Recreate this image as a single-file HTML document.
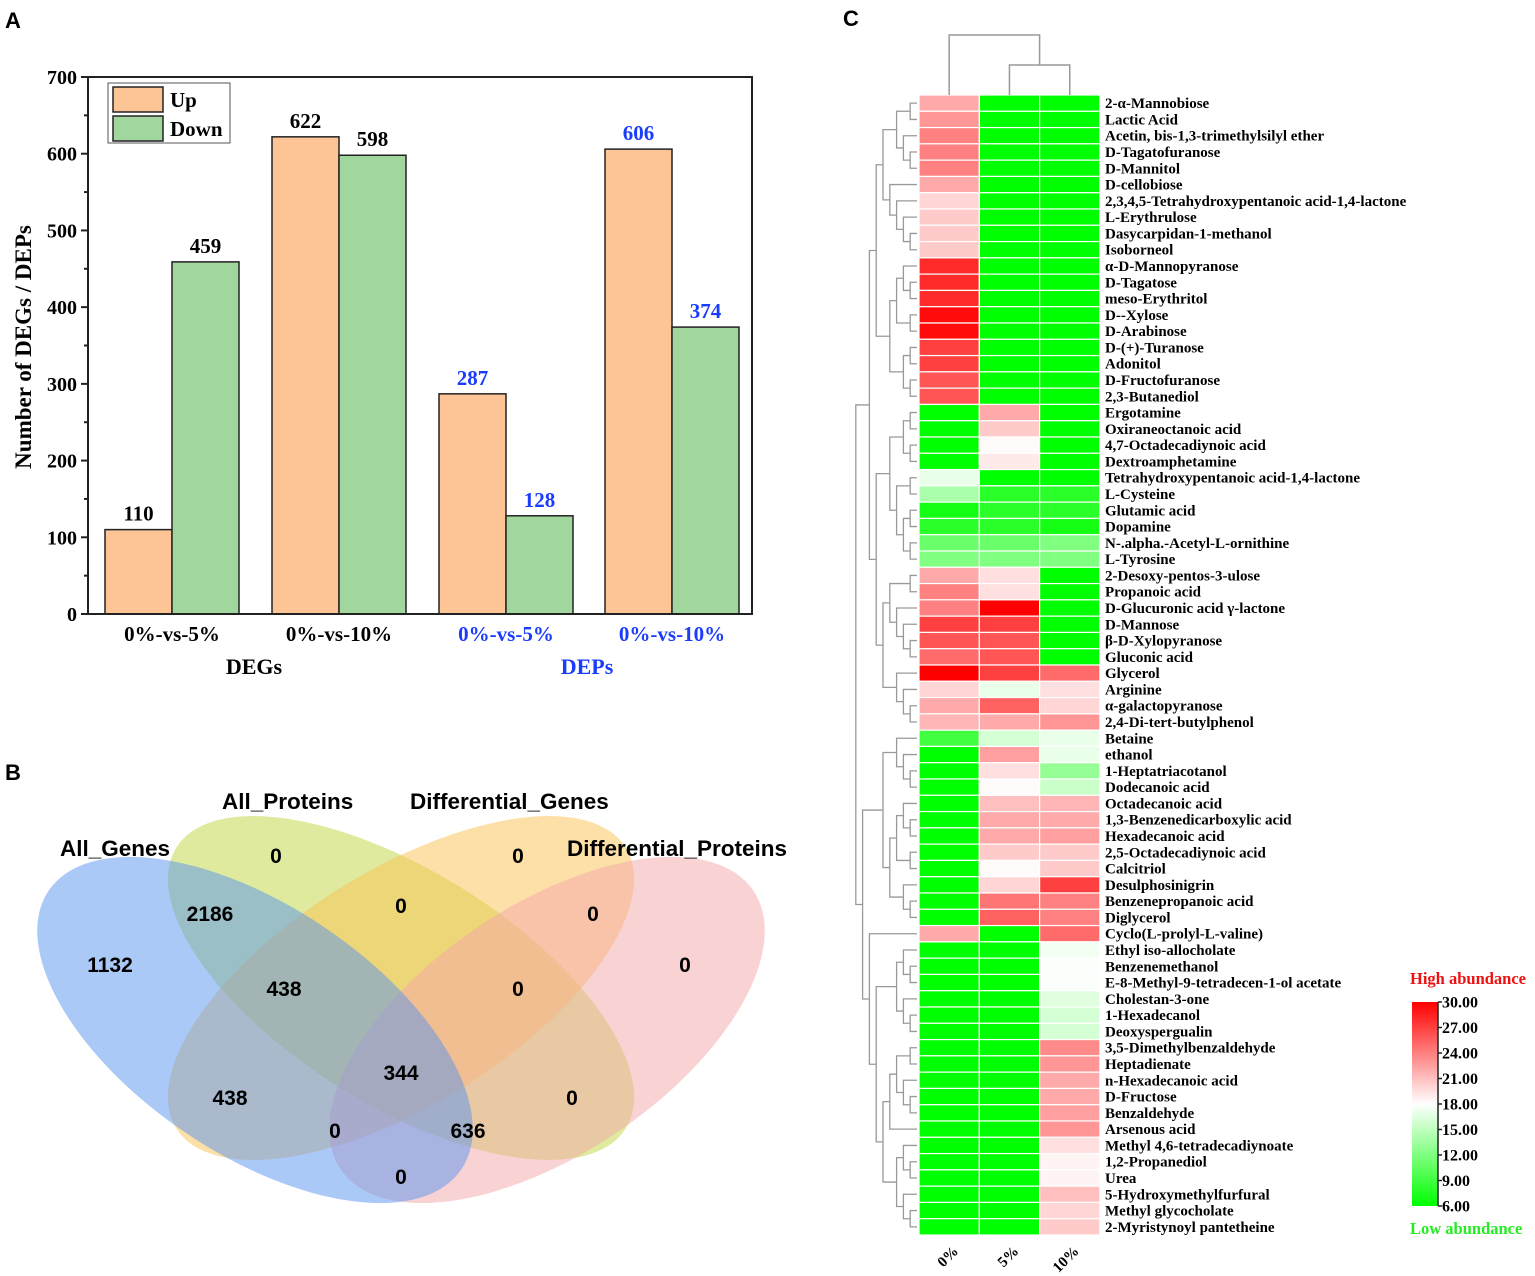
<!DOCTYPE html>
<html><head><meta charset="utf-8">
<style>
html,body{margin:0;padding:0;background:#fff;}
svg{display:block;}
.serif{font-family:"Liberation Serif",serif;font-weight:bold;}
.sans{font-family:"Liberation Sans",sans-serif;font-weight:bold;}
</style></head>
<body>
<svg id="fig" width="1535" height="1276" viewBox="0 0 1535 1276" xmlns="http://www.w3.org/2000/svg">
<text x="5" y="28" class="sans" font-size="22">A</text>
<text x="5" y="780" class="sans" font-size="22">B</text>
<text x="843" y="26" class="sans" font-size="22">C</text>
<g id="bar"></g>
<g id="venn"></g>
<g id="heat"></g>
</svg>
<script>
const NS="http://www.w3.org/2000/svg";
function mk(parent,tag,attrs,txt){const e=document.createElementNS(NS,tag);for(const k in attrs)e.setAttribute(k,attrs[k]);if(txt!==undefined)e.textContent=txt;parent.appendChild(e);return e;}

// ---------- Bar chart data ----------
const barCategories=["0%-vs-5%","0%-vs-10%","0%-vs-5%","0%-vs-10%"];
const upValues=[110,622,287,606];
const downValues=[459,598,128,374];
const yTicks=[0,100,200,300,400,500,600,700];
const groupNames=["DEGs","DEPs"];

// ---------- Venn data ----------
const vennSets=["All_Genes","All_Proteins","Differential_Genes","Differential_Proteins"];
const vennCounts=["1132","0","0","0","2186","0","0","438","0","438","344","0","0","636","0"];

// ---------- Heatmap data ----------
const heatCols=["0%","5%","10%"];
const heatRows=["2-α-Mannobiose","Lactic Acid","Acetin, bis-1,3-trimethylsilyl ether","D-Tagatofuranose","D-Mannitol","D-cellobiose","2,3,4,5-Tetrahydroxypentanoic acid-1,4-lactone","L-Erythrulose","Dasycarpidan-1-methanol","Isoborneol","α-D-Mannopyranose","D-Tagatose","meso-Erythritol","D--Xylose","D-Arabinose","D-(+)-Turanose","Adonitol","D-Fructofuranose","2,3-Butanediol","Ergotamine","Oxiraneoctanoic acid","4,7-Octadecadiynoic acid","Dextroamphetamine","Tetrahydroxypentanoic acid-1,4-lactone","L-Cysteine","Glutamic acid","Dopamine","N-.alpha.-Acetyl-L-ornithine","L-Tyrosine","2-Desoxy-pentos-3-ulose","Propanoic acid","D-Glucuronic acid γ-lactone","D-Mannose","β-D-Xylopyranose","Gluconic acid","Glycerol","Arginine","α-galactopyranose","2,4-Di-tert-butylphenol","Betaine","ethanol","1-Heptatriacotanol","Dodecanoic acid","Octadecanoic acid","1,3-Benzenedicarboxylic acid","Hexadecanoic acid","2,5-Octadecadiynoic acid","Calcitriol","Desulphosinigrin","Benzenepropanoic acid","Diglycerol","Cyclo(L-prolyl-L-valine)","Ethyl iso-allocholate","Benzenemethanol","E-8-Methyl-9-tetradecen-1-ol acetate","Cholestan-3-one","1-Hexadecanol","Deoxyspergualin","3,5-Dimethylbenzaldehyde","Heptadienate","n-Hexadecanoic acid","D-Fructose","Benzaldehyde","Arsenous acid","Methyl 4,6-tetradecadiynoate","1,2-Propanediol","Urea","5-Hydroxymethylfurfural","Methyl glycocholate","2-Myristynoyl pantetheine"];
const heat0=[22,23,24,24,24,22,20,20.5,20.5,20.5,28,28,28,29.5,29.5,27,27,26,26,6,6,6,6,17,14,7,8,11,12,22,24,24,27,26,25,30,20,22,21.5,9,6,6,6,6,6,6,6,6,6,6,6,22,6,6,6,6,6,6,6,6,6,6,6,6,6,6,6,6,6,6];
const heat5=[6,6,6,6,6,6,6,6,6,6,6,6,6,6,6,6,6,6,6,22,20.5,18.2,19,6,8,8,8,11,12,19.5,19.5,30,27,26,26,27,17,25.5,22,16,22.5,19.5,18.2,21,22,22,20.5,18.2,20,24.5,25.5,6,6,6,6,6,6,6,6,6,6,6,6,6,6,6,6,6,6,6];
const heat10=[6,6,6,6,6,6,6,6,6,6,6,6,6,6,6,6,6,6,6,6,6,6,6,6,8,8,7,12,12,6,6,6,6,6,6,25,19.5,20,23,17,17,13,15.5,21.5,22,22.5,20.5,20.5,27,24,24,25,17.5,17.8,17.8,16.5,16,16,23.5,23,22,22,22.5,23,19.5,18.5,18.5,21,20,20.5];
const cbTicks=["30.00","27.00","24.00","21.00","18.00","15.00","12.00","9.00","6.00"];

// ===== Bar chart =====
(function(){
const g=document.getElementById('bar');
const x0=88,x1=752,yTop=77,yBot=614,vmax=700;
const y=v=>yBot-(v/vmax)*(yBot-yTop);
const groupX=[105,272,439,605], bw=67;
const labColor=["#000","#000","#1a3cff","#1a3cff"];
for(let i=0;i<barCategories.length;i++){
  const xu=groupX[i], xd=groupX[i]+bw;
  let r=mk(g,'rect',{x:xu,y:y(upValues[i]),width:bw,height:yBot-y(upValues[i]),fill:'#fdc596',stroke:'#222','stroke-width':1.5});
  
  let d=mk(g,'rect',{x:xd,y:y(downValues[i]),width:bw,height:yBot-y(downValues[i]),fill:'#a1d79e',stroke:'#222','stroke-width':1.5});
  
  let t1=mk(g,'text',{x:xu+bw/2,y:y(upValues[i])-9,'text-anchor':'middle','font-size':21,fill:labColor[i],class:'serif'},upValues[i]);
  
  let t2=mk(g,'text',{x:xd+bw/2,y:y(downValues[i])-9,'text-anchor':'middle','font-size':21,fill:labColor[i],class:'serif'},downValues[i]);
  
  let c=mk(g,'text',{x:xu+bw,y:641,'text-anchor':'middle','font-size':21,fill:labColor[i],class:'serif'},barCategories[i]);
  
}
let gn1=mk(g,'text',{x:254,y:674,'text-anchor':'middle','font-size':22,class:'serif'},groupNames[0]);

let gn2=mk(g,'text',{x:587,y:674,'text-anchor':'middle','font-size':22,fill:'#1a3cff',class:'serif'},groupNames[1]);

let fr=mk(g,'rect',{x:x0,y:yTop,width:x1-x0,height:yBot-yTop,fill:'none',stroke:'#222','stroke-width':2});

yTicks.forEach(v=>{
  mk(g,'line',{x1:x0-7,x2:x0,y1:y(v),y2:y(v),stroke:'#222','stroke-width':2});
  let t=mk(g,'text',{x:x0-11,y:y(v)+7,'text-anchor':'end','font-size':20,class:'serif'},v);
  
  if(v<vmax) mk(g,'line',{x1:x0-4,x2:x0,y1:y(v+50),y2:y(v+50),stroke:'#222','stroke-width':2});
});
let yt=mk(g,'text',{x:0,y:0,transform:'translate(31,347) rotate(-90)','text-anchor':'middle','font-size':23,class:'serif'},'Number of DEGs / DEPs');

const lg=mk(g,'g',{});

mk(lg,'rect',{x:108,y:83,width:122,height:60,fill:'#fff',stroke:'#555','stroke-width':1});
mk(lg,'rect',{x:113,y:87,width:50,height:25,fill:'#fdc596',stroke:'#222','stroke-width':1.5});
mk(lg,'rect',{x:113,y:116,width:50,height:25,fill:'#a1d79e',stroke:'#222','stroke-width':1.5});
let l1=mk(lg,'text',{x:170,y:107,'font-size':21,class:'serif'},'Up');

let l2=mk(lg,'text',{x:170,y:136,'font-size':21,class:'serif'},'Down');

})();

// ===== Venn =====
(function(){
const g=document.getElementById('venn');
// drawn order: green, orange, pink, blue (blue on top)
const ells=[
 {n:2,cx:401,cy:988,rx:265,ry:117,a:32,fill:'#bfd540'},
 {n:3,cx:401,cy:988,rx:265,ry:117,a:-32,fill:'#fbc151'},
 {n:4,cx:547,cy:1030,rx:249,ry:124,a:-34,fill:'#f3a5a9'},
 {n:1,cx:255,cy:1030,rx:249,ry:124,a:34,fill:'#5893ef'}
];
ells.forEach(e=>{
  let el=mk(g,'ellipse',{cx:e.cx,cy:e.cy,rx:e.rx,ry:e.ry,transform:`rotate(${e.a} ${e.cx} ${e.cy})`,fill:e.fill,'fill-opacity':0.5});
  
});
const setPos=[[60,856],[222,809],[410,809],[567,856]];
vennSets.forEach((s,i)=>{
  let t=mk(g,'text',{x:setPos[i][0],y:setPos[i][1],'font-size':22.5,class:'sans'},s);
  
});
const cPos=[[110,972],[276,863],[518,863],[685,972],[210,921],[401,913],[593,921],[284,996],[518,996],[230,1105],[401,1080],[572,1105],[335,1138],[468,1138],[401,1184]];
vennCounts.forEach((c,i)=>{
  let t=mk(g,'text',{x:cPos[i][0],y:cPos[i][1],'text-anchor':'middle','font-size':21,class:'sans'},c);
  
});
})();

// ===== Heatmap =====
(function(){
const g=document.getElementById('heat');
const hx0=919, cw=60.3, hy0=95, rh=(1235-95)/heatRows.length;
function col(v){
  if(v>=18){const t=Math.min(1,(v-18)/12);const c=Math.round(255*(1-t));return `rgb(255,${c},${c})`;}
  const t=Math.min(1,(18-v)/12);const c=Math.round(255*(1-t));return `rgb(${c},255,${c})`;
}
const series=[heat0,heat5,heat10];
for(let r=0;r<heatRows.length;r++){
  for(let c=0;c<3;c++){
    let cell=mk(g,'rect',{x:hx0+c*cw,y:hy0+r*rh,width:cw,height:rh,fill:col(series[c][r]),stroke:'#fff','stroke-width':1.2});
    
  }
  let t=mk(g,'text',{x:1105,y:hy0+r*rh+rh/2+5,'font-size':15,class:'serif'},heatRows[r]);
  
}
heatCols.forEach((c,i)=>{
  const cx=hx0+i*cw+cw/2;
  let t=mk(g,'text',{x:0,y:0,transform:`translate(${cx+10},${1252}) rotate(-45)`,'text-anchor':'end','font-size':15,class:'serif'},c);
  
});
const cd=mk(g,'g',{stroke:'#999','stroke-width':1.5,fill:'none'});

const c0=hx0+cw/2,c1=hx0+cw*1.5,c2=hx0+cw*2.5,cm=(c1+c2)/2;
mk(cd,'path',{d:`M${c1},95V65H${c2}V95M${cm},65V35H${c0}V95`});
const tree=[[[[[[1,2],[3,[4,5]]],[6,[7,[8,[9,10]]]]],[[[11,[12,13]],[14,15]],[[16,17],[18,19]]]],[[[[20,21],[22,23]],[[24,25],[[26,27],[28,29]]]],[[[30,31],[32,[33,[34,35]]]],[36,[37,[38,39]]]]]],[[[40,[41,[42,43]]],[[[44,[45,46]],[47,48]],[49,[50,51]]]],[52,[[[53,[54,55]],[56,[57,58]]],[[[[59,60],[61,[62,63]]],64],[[65,[66,67]],[68,[69,70]]]]]]]];
const rd=mk(g,'g',{stroke:'#999','stroke-width':1.3,fill:'none'});

const leafX=917,step=6.8;
function draw(n){
  if(typeof n==='number') return {y:hy0+(n-1)*rh+rh/2,h:0};
  const a=draw(n[0]),b=draw(n[1]);const h=Math.max(a.h,b.h)+1;const x=leafX-h*step;
  mk(rd,'path',{d:`M${leafX-a.h*step},${a.y}H${x}V${b.y}H${leafX-b.h*step}`});
  return {y:(a.y+b.y)/2,h};
}
draw(tree);
const defs=mk(g,'defs',{});
const lgd=mk(defs,'linearGradient',{id:'cbg',x1:0,y1:0,x2:0,y2:1});
mk(lgd,'stop',{offset:'0','stop-color':'#ff0000'});
mk(lgd,'stop',{offset:'0.5','stop-color':'#ffffff'});
mk(lgd,'stop',{offset:'1','stop-color':'#00ff00'});
const cb=mk(g,'g',{});

const cbT=1002,cbB=1206;
mk(cb,'rect',{x:1412,y:cbT,width:26,height:cbB-cbT,fill:'url(#cbg)'});
mk(cb,'line',{x1:1438,x2:1438,y1:cbT,y2:cbB,stroke:'#222','stroke-width':1.5});
cbTicks.forEach((t,i)=>{
  const yy=cbT+i*(cbB-cbT)/(cbTicks.length-1);
  mk(cb,'line',{x1:1438,x2:1442,y1:yy,y2:yy,stroke:'#222','stroke-width':1.5});
  let tx=mk(cb,'text',{x:1442,y:yy+5.5,'font-size':16,class:'serif'},t);
  
});
let hi=mk(g,'text',{x:1410,y:984,'font-size':16.5,fill:'#ee1111',class:'serif'},'High abundance');

let lo=mk(g,'text',{x:1410,y:1234,'font-size':16.5,fill:'#22ee22',class:'serif'},'Low abundance');

})();
</script>
</body></html>
